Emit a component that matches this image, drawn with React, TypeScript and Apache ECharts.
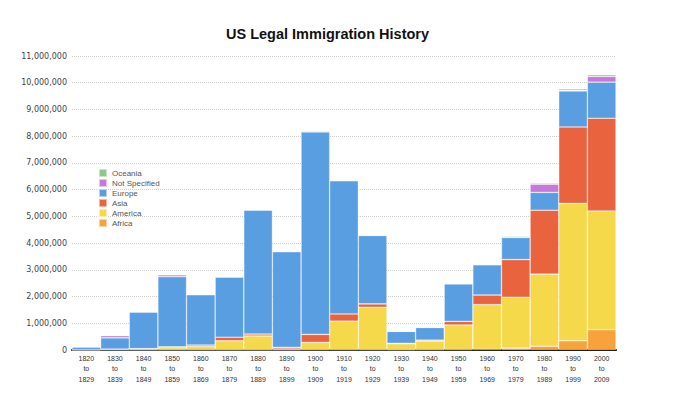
import React, { useEffect, useRef } from "react";
import * as echarts from "echarts";

const categories = [
  "1820\nto\n1829", "1830\nto\n1839", "1840\nto\n1849", "1850\nto\n1859", "1860\nto\n1869",
  "1870\nto\n1879", "1880\nto\n1889", "1890\nto\n1899", "1900\nto\n1909", "1910\nto\n1919",
  "1920\nto\n1929", "1930\nto\n1939", "1940\nto\n1949", "1950\nto\n1959", "1960\nto\n1969",
  "1970\nto\n1979", "1980\nto\n1989", "1990\nto\n1999", "2000\nto\n2009",
];

const africa = [15, 50, 61, 84, 407, 371, 763, 432, 6326, 8867, 6362, 2120, 6720, 13016, 23780, 71408, 141990, 346416, 759734];
const america = [9655, 31905, 50516, 84145, 130292, 345010, 524826, 37350, 277809, 1070539, 1591278, 230319, 328435, 921610, 1674172, 1904355, 2695329, 5137743, 4441529];
const asia = [34, 55, 121, 36080, 54408, 134128, 71151, 61285, 299836, 269736, 126740, 19231, 34532, 135844, 358605, 1406544, 2391356, 2859899, 3470835];
const europe = [99272, 422771, 1369259, 2622617, 1880389, 2252050, 4638684, 3576411, 7572569, 4985411, 2560340, 444399, 472524, 1404973, 1133443, 825590, 668866, 1348612, 1349609];
const notSpecified = [19523, 83593, 7366, 71442, 15578, 692, 789, 14112, 33493, 488, 930, 0, 135, 12472, 119, 326, 305406, 25928, 211930];
const oceania = [3, 7, 14, 166, 187, 9886, 12574, 4704, 12355, 12339, 9860, 3306, 14262, 11353, 23630, 39980, 41432, 56800, 65793];

const legendOrder = ["Oceania", "Not Specified", "Europe", "Asia", "America", "Africa"];

export default function App() {
  const ref = useRef<HTMLDivElement>(null);
  useEffect(() => {
    document.body.style.margin = "0";
    const chart = echarts.init(ref.current!, null, { renderer: "svg" });
    const mk = (name: string, data: number[], color: string) => ({
      name,
      type: "bar",
      stack: "total",
      data,
      barCategoryGap: "0%",
      itemStyle: { color, borderColor: "rgba(255,255,255,0.55)", borderWidth: 0.6 },
    });
    chart.setOption({
      animation: false,
      backgroundColor: "#fff",
      title: {
        text: "US Legal Immigration History",
        left: 221,
        top: 21,
        textStyle: { fontFamily: "Liberation Sans", fontSize: 14.5, fontWeight: "bold", color: "#111" },
      },
      legend: {
        data: legendOrder,
        orient: "vertical",
        left: 98,
        top: 168,
        padding: 0,
        itemWidth: 8,
        itemHeight: 8,
        itemGap: 0,
        icon: "rect",
        textStyle: { fontFamily: "Liberation Sans", fontSize: 8, lineHeight: 8, color: "#555" },
      },
      grid: { left: 72, right: 58, top: 56, bottom: 50, containLabel: false },
      xAxis: {
        type: "category",
        data: categories,
        axisLine: { lineStyle: { color: "#111", width: 2 } },
        axisTick: { show: false },
        axisLabel: {
          fontFamily: "Liberation Sans",
          fontSize: 7,
          lineHeight: 10.5,
          color: "#333",
          margin: 3,
          interval: 0,
        },
      },
      yAxis: {
        type: "value",
        min: 0,
        max: 11000000,
        interval: 1000000,
        axisLine: { show: false },
        axisTick: { show: false },
        splitLine: { lineStyle: { color: "#d0d0d0", type: "dotted", width: 1 } },
        axisLabel: {
          fontFamily: "DejaVu Sans",
          fontSize: 8,
          color: "#444",
          margin: 5,
          formatter: (v: number) => v.toLocaleString("en-US"),
        },
      },
      series: [
        mk("Africa", africa, "#f7a23b"),
        mk("America", america, "#f6d94b"),
        mk("Asia", asia, "#e9633e"),
        mk("Europe", europe, "#5a9ee2"),
        mk("Not Specified", notSpecified, "#c47ad6"),
        mk("Oceania", oceania, "#8dc98a"),
      ],
    });
    return () => chart.dispose();
  }, []);
  return <div ref={ref} style={{ width: 674, height: 400 }} />;
}
